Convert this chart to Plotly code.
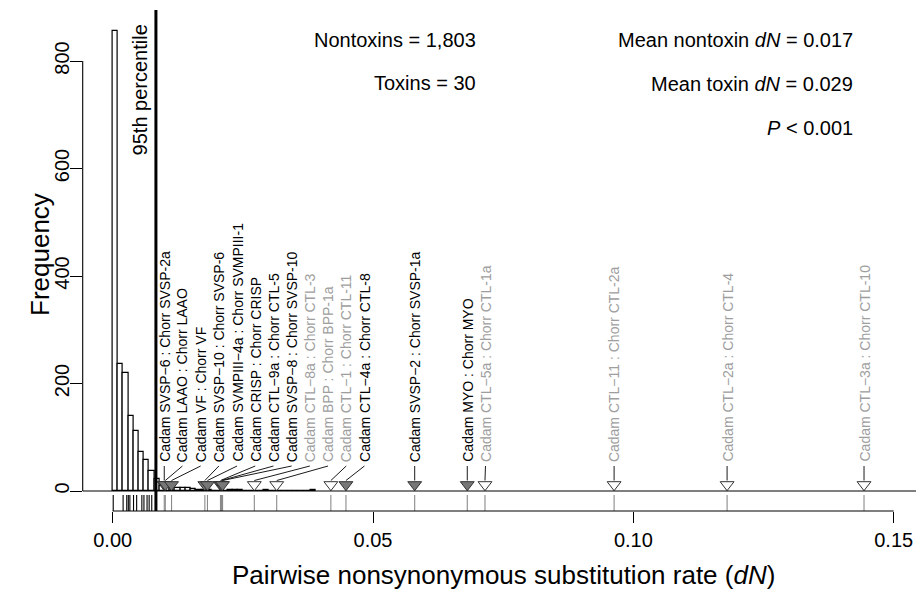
import plotly.graph_objects as go

# ------------------------------------------------------------------ data
bin_width = 0.001
nontoxin_counts = [855, 236, 220, 140, 112, 72, 58, 37, 22, 10,
                   8, 6, 5, 5, 5, 4, 1, 1, 1, 0,
                   0, 0, 1, 1, 1, 0, 0, 0, 0, 1,
                   0, 0, 0, 0, 0, 0, 0, 0, 1]
p95 = 0.0083

unlabeled_toxin_dn = [0.0001, 0.0020, 0.0027, 0.0030, 0.0033, 0.0040,
                      0.0046, 0.0056, 0.0060, 0.0066, 0.0070, 0.0075]

cadam_names = ["SVSP\u22126", "LAAO", "VF", "SVSP\u221210", "SVMPIII\u22124a",
               "CRISP", "CTL\u22129a", "SVSP\u22128", "CTL\u22128a", "BPP",
               "CTL\u22121", "CTL\u22124a", "SVSP\u22122", "MYO", "CTL\u22125a",
               "CTL\u221211", "CTL\u22122a", "CTL\u22123a"]
chorr_names = ["SVSP-2a", "LAAO", "VF", "SVSP-6", "SVMPIII-1",
               "CRISP", "CTL-5", "SVSP-10", "CTL-3", "BPP-1a",
               "CTL-11", "CTL-8", "SVSP-1a", "MYO", "CTL-1a",
               "CTL-2a", "CTL-4", "CTL-10"]
labeled_dn = [0.0099, 0.0101, 0.0113, 0.0177, 0.0182,
              0.0207, 0.0209, 0.0211, 0.0272, 0.0315,
              0.0419, 0.0448, 0.0580, 0.0681, 0.0715,
              0.0963, 0.1180, 0.1443]
labeled_highlight = [True, True, True, True, True,
                     True, True, True, False, False,
                     False, True, True, True, False,
                     False, False, False]

x_tickvals = [0.0, 0.05, 0.10, 0.15]
x_ticktext = ["0.00", "0.05", "0.10", "0.15"]
y_tickvals = [0, 200, 400, 600, 800]

stats_left = ["Nontoxins = 1,803", "Toxins = 30"]
stats_right = ["Mean nontoxin <i>dN</i> = 0.017", "Mean toxin <i>dN</i> = 0.029",
               "<i>P</i> < 0.001"]

# ------------------------------------------------------------------ layout constants
W, H = 916, 591
FONT = "Liberation Sans, Arial, Helvetica, sans-serif"
X0_PX = 112.7                 # pixel of dN = 0
PXU_X = 781.0 / 0.15          # pixels per dN unit
Y0_PX = 491.0                 # pixel of frequency 0
PXU_Y = 430.0 / 800.0         # pixels per count
PLOT_LEFT_PX = 82.7
PLOT_BOTTOM_PX = 511.0

def ydat(px):
    return (Y0_PX - px) / PXU_Y

LABEL_GAP = 18.2 / PXU_X
GRAY_TXT = "#9e9e9e"
Y_RANGE = [ydat(PLOT_BOTTOM_PX), ydat(0)]
Y_DOMAIN = [(H - PLOT_BOTTOM_PX) / H, 1]

# ------------------------------------------------------------------ figure
fig = go.Figure()

# histogram of nontoxins
bin_centers = [(i + 0.5) * bin_width for i in range(len(nontoxin_counts))]
fig.add_trace(go.Bar(x=bin_centers, y=nontoxin_counts, width=bin_width,
                     marker=dict(color="white", line=dict(color="black", width=1.2)),
                     hoverinfo="skip"))

# rug of all toxin values
all_toxin = unlabeled_toxin_dn + labeled_dn
rug_lo, rug_hi = ydat(PLOT_BOTTOM_PX), ydat(495)
for colr, sel in (("black", lambda v: v <= p95), ("#8a8a8a", lambda v: v > p95)):
    xs, ys = [], []
    for v in all_toxin:
        if sel(v):
            xs += [v, v, None]
            ys += [rug_lo, rug_hi, None]
    fig.add_trace(go.Scatter(x=xs, y=ys, mode="lines",
                             line=dict(color=colr, width=1.1), hoverinfo="skip"))

# label positions (spread so they do not overlap)
label_x = []
for i, v in enumerate(labeled_dn):
    if i == 0:
        label_x.append(v)
    else:
        label_x.append(max(v, label_x[-1] + LABEL_GAP))

# leader lines
lx, ly = [], []
for xl, v in zip(label_x, labeled_dn):
    lx += [xl, v, None]
    ly += [ydat(466), ydat(480.5), None]
fig.add_trace(go.Scatter(x=lx, y=ly, mode="lines",
                         line=dict(color="black", width=0.9), hoverinfo="skip"))

# triangles
tri_y = ydat(484.7)
for hl, fillc in ((False, "white"), (True, "#777777")):
    xs = [v for v, h in zip(labeled_dn, labeled_highlight) if h == hl]
    fig.add_trace(go.Scatter(x=xs, y=[tri_y] * len(xs), mode="markers",
                             marker=dict(symbol="triangle-down", size=12, color=fillc,
                                         line=dict(color="#333333", width=1)),
                             cliponaxis=False, hoverinfo="skip"))

# empty trace to keep the tick-mark axis alive
fig.add_trace(go.Scatter(x=[None], y=[None], yaxis="y2", mode="lines", hoverinfo="skip"))

annotations = []
for xl, cn, hn, hl in zip(label_x, cadam_names, chorr_names, labeled_highlight):
    annotations.append(dict(x=xl, y=ydat(464), xref="x", yref="y",
                            text=f"Cadam {cn} : Chorr {hn}", textangle=-90,
                            showarrow=False, xanchor="center", yanchor="bottom",
                            font=dict(family=FONT, size=14,
                                      color="black" if hl else GRAY_TXT)))

# 95th percentile label
annotations.append(dict(x=p95, xref="x", xshift=-15.5, y=1 - 90 / H, yref="paper",
                        text="95th percentile", textangle=-90, showarrow=False,
                        xanchor="center", yanchor="middle",
                        font=dict(family=FONT, size=20, color="black")))

# stats text
for i, t in enumerate(stats_left):
    annotations.append(dict(x=478 / W, y=1 - (40 + 43 * i) / H, xref="paper", yref="paper",
                            text=t, showarrow=False, xanchor="right", yanchor="middle",
                            font=dict(family=FONT, size=20, color="black")))
for i, t in enumerate(stats_right):
    annotations.append(dict(x=855 / W, y=1 - (40 + 44 * i) / H, xref="paper", yref="paper",
                            text=t, showarrow=False, xanchor="right", yanchor="middle",
                            font=dict(family=FONT, size=20, color="black")))

# axis titles
annotations.append(dict(x=40 / W, y=1 - 255 / H, xref="paper", yref="paper",
                        text="Frequency", textangle=-90, showarrow=False,
                        xanchor="center", yanchor="middle",
                        font=dict(family=FONT, size=26, color="black")))
annotations.append(dict(x=503 / W, y=1 - 575 / H, xref="paper", yref="paper",
                        text="Pairwise nonsynonymous substitution rate (<i>dN</i>)",
                        showarrow=False, xanchor="center", yanchor="middle",
                        font=dict(family=FONT, size=26, color="black")))

shapes = [
    # baseline at frequency 0
    dict(type="line", xref="paper", yref="y", x0=PLOT_LEFT_PX / W, x1=1, y0=0, y1=0,
         line=dict(color="black", width=1.1)),
    # x axis line
    dict(type="line", xref="x", yref="paper", x0=x_tickvals[0], x1=x_tickvals[-1],
         y0=(H - PLOT_BOTTOM_PX) / H, y1=(H - PLOT_BOTTOM_PX) / H,
         line=dict(color="black", width=1.1)),
    # y axis line
    dict(type="line", xref="paper", yref="y", x0=PLOT_LEFT_PX / W, x1=PLOT_LEFT_PX / W,
         y0=y_tickvals[0], y1=y_tickvals[-1], line=dict(color="black", width=1.1)),
    # 95th percentile
    dict(type="line", xref="x", yref="y", x0=p95, x1=p95, y0=ydat(513), y1=ydat(10),
         line=dict(color="black", width=3)),
]

fig.update_layout(
    width=W, height=H, margin=dict(l=0, r=0, t=0, b=0),
    paper_bgcolor="white", plot_bgcolor="white", showlegend=False, bargap=0,
    annotations=annotations, shapes=shapes,
    xaxis=dict(domain=[PLOT_LEFT_PX / W, 1],
               range=[(PLOT_LEFT_PX - X0_PX) / PXU_X, (W - X0_PX) / PXU_X],
               tickvals=x_tickvals, ticktext=x_ticktext, ticks="outside", ticklen=11,
               tickwidth=1.1, tickcolor="black", showline=False, showgrid=False,
               zeroline=False, automargin=False,
               tickfont=dict(family=FONT, size=20, color="black")),
    yaxis=dict(domain=Y_DOMAIN, range=Y_RANGE,
               tickvals=y_tickvals, ticks="outside", ticklen=5, tickangle=-90,
               tickwidth=1.1, tickcolor="black", showline=False, showgrid=False,
               zeroline=False, automargin=False,
               tickfont=dict(family=FONT, size=20, color="black")),
    yaxis2=dict(domain=Y_DOMAIN, range=Y_RANGE, overlaying="y", anchor="x", side="left",
                tickvals=y_tickvals, ticks="outside", ticklen=12, showticklabels=False,
                tickwidth=1.1, tickcolor="black", showline=False, showgrid=False,
                zeroline=False, automargin=False),
)

fig.write_html("out.html")
